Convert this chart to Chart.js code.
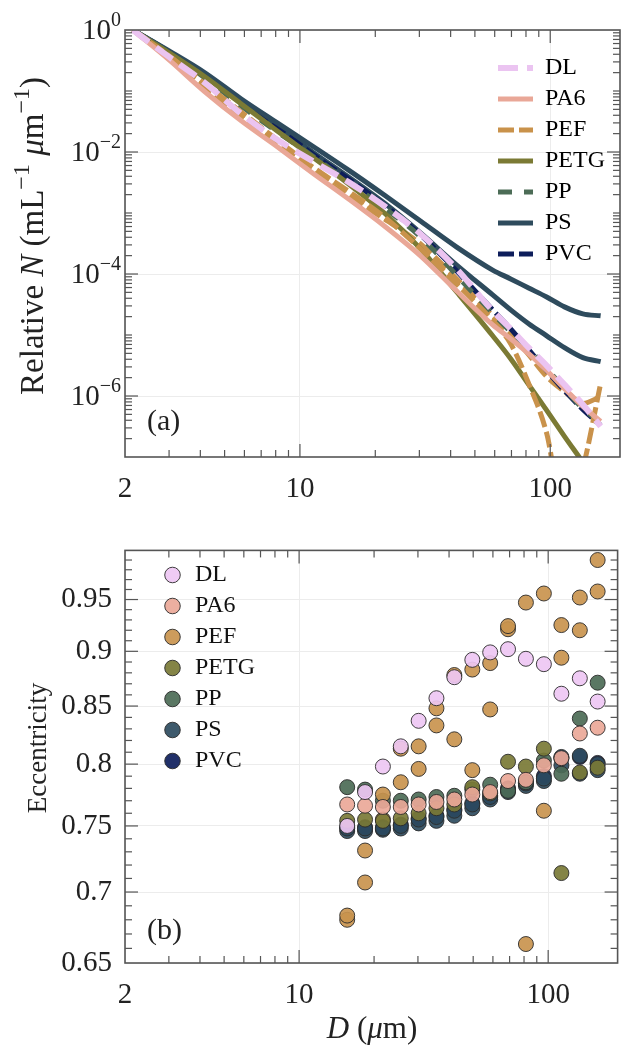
<!DOCTYPE html>
<html>
<head>
<meta charset="utf-8">
<script src="https://cdn.jsdelivr.net/npm/chart.js@4.4.1/dist/chart.umd.min.js"></script>
<style>
  body { margin: 0; background: #fff; }
  canvas { position: absolute; left: 0; }
  #sizeChart { top: 0; }
  #eccChart { top: 520px; }
</style>
</head>
<body>
<canvas id="sizeChart" width="626" height="520"></canvas>
<canvas id="eccChart" width="626" height="526"></canvas>
<script>
  // panel (a): size distributions, D in um
  const sizeD = [2.15, 3, 4.17, 5.81, 8.09, 11.3, 15.7, 21.8, 30.4, 42.3, 58.9, 69.5, 82, 96.8, 114, 135, 159];
  const nDL   = [1, 0.362, 0.136, 0.0426, 0.016, 0.007, 0.00318, 0.00129, 4.5e-4, 1.21e-4, 2.49e-5, 1.26e-5, 6.19e-6, 3.15e-6, 1.54e-6, 7.26e-7, 3.18e-7];
  const nPA6  = [1, 0.324, 0.0973, 0.0327, 0.0123, 0.00446, 0.00168, 6.08e-4, 1.97e-4, 5.27e-5, 1.47e-5, 8.69e-6, 4.94e-6, 2.61e-6, 1.32e-6, 6.74e-7, 3.84e-7];
  const nPEF1 = [1, 0.377, 0.131, 0.0458, 0.016, 0.00558, 0.00226, 8.53e-4, 2.56e-4, 6.87e-5, 1.71e-5, 7.2e-6, 1.6e-6, 2.44e-7, 1e-8, 6.6e-8, 1.6e-6];
  const nPEF2 = [1, 0.349, 0.113, 0.038, 0.0132, 0.00462, 0.00187, 7.9e-4, 3.09e-4, 8.3e-5, 2.06e-5, 1.05e-5, 4.76e-6, 2.08e-6, 1.18e-6, 7.55e-7, 9.8e-7];
  const nPETG = [1, 0.421, 0.171, 0.0619, 0.0224, 0.00813, 0.00295, 9.9e-4, 2.56e-4, 5.08e-5, 9.72e-6, 4.09e-6, 1.54e-6, 5.8e-7, 2.18e-7, 8.2e-8, 3.1e-8];
  const nPP   = [1, 0.421, 0.164, 0.0574, 0.0216, 0.00845, 0.00318, 0.0012, 4.02e-4, 9.5e-5, 2.22e-5, 1.13e-5, 5.97e-6, 2.81e-6, 1.32e-6, 6.25e-7, 3.69e-7];
  const nPS1  = [1, 0.454, 0.199, 0.0747, 0.0303, 0.0123, 0.00499, 0.00195, 7.33e-4, 2.76e-4, 1.16e-4, 8.3e-5, 5.9e-5, 4.2e-5, 2.89e-5, 2.22e-5, 2.06e-5];
  const nPS2  = [1, 0.438, 0.184, 0.0693, 0.0271, 0.00982, 0.00384, 0.00144, 4.67e-4, 1.4e-4, 4.54e-5, 2.58e-5, 1.53e-5, 9.7e-6, 6.2e-6, 4.26e-6, 3.66e-6];
  const nPVC  = [1, 0.438, 0.177, 0.0643, 0.0251, 0.0091, 0.00356, 0.00134, 4.33e-4, 1.12e-4, 2.58e-5, 1.26e-5, 5.74e-6, 2.61e-6, 1.23e-6, 6.02e-7, 3.3e-7];

  // panel (b): eccentricity per size bin
  const eccD  = [15.6, 18.4, 21.7, 25.6, 30.2, 35.6, 42.0, 49.6, 58.5, 69.0, 81.4, 96.1, 113, 134, 158];
  const eDL   = [0.750, 0.777, 0.798, 0.815, 0.837, 0.857, 0.876, 0.892, 0.899, 0.902, 0.893, 0.888, 0.861, 0.875, 0.854];
  const ePA6  = [0.767, 0.766, 0.765, 0.765, 0.767, 0.769, 0.771, 0.775, 0.777, 0.786, 0.787, 0.799, 0.805, 0.826, 0.831];
  const ePEF1 = [0.683, 0.731, 0.775, 0.813, 0.815, 0.848, 0.878, 0.883, 0.889, 0.924, 0.947, 0.956, 0.925, 0.952, 0.990];
  const ePEF2 = [0.680, 0.707, 0.755, 0.785, 0.796, 0.833, 0.821, 0.795, 0.847, 0.921, 0.663, 0.762, 0.894, 0.920, 0.958];
  const ePETG = [0.754, 0.755, 0.754, 0.756, 0.760, 0.764, 0.767, 0.781, 0.776, 0.802, 0.798, 0.813, 0.714, 0.793, 0.797];
  const ePP   = [0.781, 0.779, 0.770, 0.770, 0.771, 0.773, 0.774, 0.779, 0.783, 0.778, 0.785, 0.803, 0.792, 0.839, 0.871];
  const ePS1  = [0.748, 0.748, 0.748, 0.750, 0.755, 0.757, 0.762, 0.767, 0.773, 0.779, 0.784, 0.788, 0.806, 0.807, 0.800];
  const ePS2  = [0.746, 0.746, 0.747, 0.748, 0.752, 0.754, 0.758, 0.764, 0.771, 0.777, 0.782, 0.786, 0.799, 0.792, 0.795];
  const ePVC  = [0.749, 0.749, 0.749, 0.751, 0.756, 0.758, 0.763, 0.768, 0.774, 0.780, 0.785, 0.790, 0.805, 0.806, 0.801];

  const xTicks = [2, 10, 100];
  const nTicks = [1, 1e-2, 1e-4, 1e-6];
  const eTicks = [0.65, 0.7, 0.75, 0.8, 0.85, 0.9, 0.95];

  const serif = '"Liberation Serif", "DejaVu Serif", serif';
  Chart.defaults.font.family = serif;
  Chart.defaults.color = '#222';

  const lineColor = {
    DL: '#ebc4f1', PA6: '#e9a797', PEF: '#c9924b', PETG: '#7b7a34',
    PP: '#4c6c56', PS: '#2e4b5d', PVC: '#0d1d5b'
  };
  const dotColor = {
    DL: 'rgba(238,199,243,0.92)', PA6: 'rgba(234,168,152,0.92)', PEF: 'rgba(201,148,78,0.92)',
    PETG: 'rgba(122,121,54,0.92)', PP: 'rgba(76,107,86,0.92)', PS: 'rgba(46,76,96,0.92)',
    PVC: 'rgba(14,30,92,0.92)'
  };
  const dashes = { DL: [20, 9], PA6: [], PEF: [16, 5], PETG: [], PP: [14, 12], PS: [], PVC: [16, 5] };
  const widths = { DL: 6, PA6: 5, PEF: 5, PETG: 5, PP: 5, PS: 5, PVC: 5 };

  const pts = (xs, ys) => xs.map((x, i) => ({ x: x, y: ys[i] }));

  const sizeSeries = [
    ['DL', nDL], ['PA6', nPA6], ['PEF', nPEF1], ['PETG', nPETG], ['PP', nPP], ['PS', nPS1], ['PVC', nPVC],
    ['PEF', nPEF2, true], ['PS', nPS2, true]
  ];
  const eccSeries = [
    ['DL', eDL], ['PA6', ePA6], ['PEF', ePEF1], ['PETG', ePETG], ['PP', ePP], ['PS', ePS1], ['PVC', ePVC],
    ['PEF', ePEF2, true], ['PS', ePS2, true]
  ];

  // move the legend box to a fixed spot inside the axes
  const placeLegend = (left, top) => ({
    id: 'placeLegend',
    afterLayout(chart) {
      const lg = chart.legend;
      const w = lg.width, h = lg.height;
      lg.left = left; lg.top = top; lg.right = left + w; lg.bottom = top + h;
    }
  });

  function drawRich(ctx, pieces, cx, cy, size, rotate) {
    ctx.save();
    ctx.translate(cx, cy);
    if (rotate) ctx.rotate(-Math.PI / 2);
    ctx.fillStyle = '#222';
    ctx.textBaseline = 'alphabetic';
    const fontFor = p => (p[1] === 'i' ? 'italic ' : '') + (p[1] === 's' ? Math.round(size * 0.72) : size) + 'px ' + serif;
    let total = 0;
    const ws = pieces.map(p => { ctx.font = fontFor(p); const w = ctx.measureText(p[0]).width; total += w; return w; });
    let x = -total / 2;
    pieces.forEach((p, i) => {
      ctx.font = fontFor(p);
      ctx.fillText(p[0], x, p[1] === 's' ? -size * 0.42 : 0);
      x += ws[i];
    });
    ctx.restore();
  }

  // inward ticks, axes box and panel texts
  const frame = (cfg) => ({
    id: 'frame',
    afterDraw(chart) {
      const { ctx, chartArea: a } = chart;
      const sx = chart.scales.x, sy = chart.scales.y;
      ctx.save();
      ctx.strokeStyle = '#555';
      ctx.lineWidth = 1.2;
      const seg = (x0, y0, x1, y1) => { ctx.beginPath(); ctx.moveTo(x0, y0); ctx.lineTo(x1, y1); ctx.stroke(); };
      const xt = (vals, len) => vals.forEach(v => {
        const p = sx.getPixelForValue(v);
        if (p <= a.left + 0.5 || p >= a.right - 0.5) return;
        seg(p, a.bottom, p, a.bottom - len); seg(p, a.top, p, a.top + len);
      });
      const yt = (vals, len) => vals.forEach(v => {
        const p = sy.getPixelForValue(v);
        if (p <= a.top + 0.5 || p >= a.bottom - 0.5) return;
        seg(a.left, p, a.left + len, p); seg(a.right, p, a.right - len, p);
      });
      xt(cfg.xMajor, 13); xt(cfg.xMinor, 7);
      yt(cfg.yMajor, 13); yt(cfg.yMinor, 7);
      ctx.lineWidth = 1.6;
      ctx.strokeRect(a.left, a.top, a.right - a.left, a.bottom - a.top);
      ctx.restore();
      cfg.texts(chart);
    }
  });

  const xMinor = [3, 4, 5, 6, 7, 8, 9, 20, 30, 40, 50, 60, 70, 80, 90];
  const nMinor = [];
  for (let k = -7; k <= -1; k++) for (let m = 1; m <= 9; m++) {
    const v = m * Math.pow(10, k);
    if (!nTicks.some(t => Math.abs(t - v) < v * 1e-6)) nMinor.push(v);
  }
  const eMinor = [];
  for (let i = 66; i <= 99; i++) if (i % 5 !== 0) eMinor.push(i / 100);

  const xScale = (h) => ({
    type: 'logarithmic', min: 2, max: 190,
    border: { display: false },
    grid: { color: '#ececec', drawTicks: false },
    afterBuildTicks: s => { s.ticks = xTicks.map(v => ({ value: v })); },
    afterFit: s => { s.height = h; },
    ticks: { font: { size: 29 }, padding: 15, autoSkip: false, maxRotation: 0, callback: v => String(v) }
  });

  new Chart(document.getElementById('sizeChart'), {
    type: 'line',
    data: {
      datasets: sizeSeries.map(s => ({
        label: s[0], extra: !!s[2], data: pts(sizeD, s[1]),
        borderColor: lineColor[s[0]], borderWidth: widths[s[0]], borderDash: dashes[s[0]],
        pointRadius: 0, fill: false, cubicInterpolationMode: 'monotone'
      }))
    },
    options: {
      responsive: false, animation: false,
      layout: { padding: { top: 30, right: 6, left: 0, bottom: 0 } },
      scales: {
        x: xScale(63),
        y: {
          type: 'logarithmic', min: 1e-7, max: 1,
          border: { display: false },
          grid: { color: '#ececec', drawTicks: false },
          afterBuildTicks: s => { s.ticks = nTicks.map(v => ({ value: v })); },
          afterFit: s => { s.width = 125; },
          ticks: { display: false }
        }
      },
      plugins: {
        tooltip: { enabled: false },
        legend: {
          position: 'chartArea', align: 'start',
          labels: {
            usePointStyle: true, pointStyleWidth: 35, font: { size: 24 }, padding: 7, color: '#111',
            generateLabels: chart => chart.data.datasets.map((ds, i) => ({
              text: ds.label, datasetIndex: i, hidden: false, extra: ds.extra,
              strokeStyle: ds.borderColor, fillStyle: ds.borderColor,
              lineWidth: ds.borderWidth, lineDash: ds.borderDash, pointStyle: 'line'
            })).filter(it => !it.extra)
          }
        }
      }
    },
    plugins: [placeLegend(491, 49), frame({
      xMajor: [10, 100], xMinor: xMinor, yMajor: nTicks, yMinor: nMinor,
      texts: chart => {
        const ctx = chart.ctx, sy = chart.scales.y;
        ctx.save();
        ctx.fillStyle = '#222';
        ctx.textBaseline = 'alphabetic';
        nTicks.forEach(v => {
          const p = sy.getPixelForValue(v);
          const e = Math.round(Math.log10(v));
          const sup = e === 0 ? '0' : '\u2212' + Math.abs(e);
          ctx.font = '29px ' + serif; const bw = ctx.measureText('10').width;
          ctx.font = '20px ' + serif; const sw = ctx.measureText(sup).width;
          const right = 121;
          ctx.font = '29px ' + serif; ctx.fillText('10', right - sw - bw, p + 9);
          ctx.font = '20px ' + serif; ctx.fillText(sup, right - sw, p - 4);
        });
        ctx.font = '30px ' + serif;
        ctx.fillText('(a)', 147, 430);
        ctx.restore();
        drawRich(ctx, [['Relative ', 'n'], ['N', 'i'], [' (mL', 'n'], ['\u22121', 's'], [' ', 'n'],
          ['\u03bc', 'i'], ['m', 'n'], ['\u22121', 's'], [')', 'n']], 43, 236, 33, true);
      }
    })]
  });

  new Chart(document.getElementById('eccChart'), {
    type: 'scatter',
    data: {
      datasets: eccSeries.map(s => ({
        label: s[0], extra: !!s[2], data: pts(eccD, s[1]),
        backgroundColor: dotColor[s[0]], borderColor: '#2a2a2a', borderWidth: 0.9,
        pointRadius: 7.5, pointHoverRadius: 7.5
      }))
    },
    options: {
      responsive: false, animation: false,
      layout: { padding: { top: 17, right: 6, left: 0, bottom: 0 } },
      scales: {
        x: xScale(83),
        y: {
          type: 'logarithmic', min: 0.65, max: 1,
          border: { display: false },
          grid: { color: '#ececec', drawTicks: false },
          afterBuildTicks: s => { s.ticks = eTicks.map(v => ({ value: v })); },
          afterFit: s => { s.width = 125; },
          ticks: { font: { size: 29 }, padding: 13, autoSkip: false, callback: v => String(Math.round(v * 100) / 100) }
        }
      },
      plugins: {
        tooltip: { enabled: false },
        legend: {
          position: 'chartArea', align: 'start',
          labels: {
            usePointStyle: true, pointStyle: 'circle', boxWidth: 21, boxHeight: 11,
            font: { size: 24 }, padding: 7, color: '#111',
            filter: (it, data) => !data.datasets[it.datasetIndex].extra
          }
        }
      }
    },
    plugins: [placeLegend(155, 36), frame({
      xMajor: [10, 100], xMinor: xMinor, yMajor: eTicks, yMinor: eMinor,
      texts: chart => {
        const ctx = chart.ctx;
        ctx.save();
        ctx.fillStyle = '#222';
        ctx.font = '30px ' + serif;
        ctx.textBaseline = 'alphabetic';
        ctx.fillText('(b)', 147, 419);
        ctx.restore();
        drawRich(ctx, [['Eccentricity', 'n']], 46, 228, 27, true);
        drawRich(ctx, [['D', 'i'], [' (', 'n'], ['\u03bc', 'i'], ['m)', 'n']], 372, 518, 31, false);
      }
    })]
  });
</script>
</body>
</html>
